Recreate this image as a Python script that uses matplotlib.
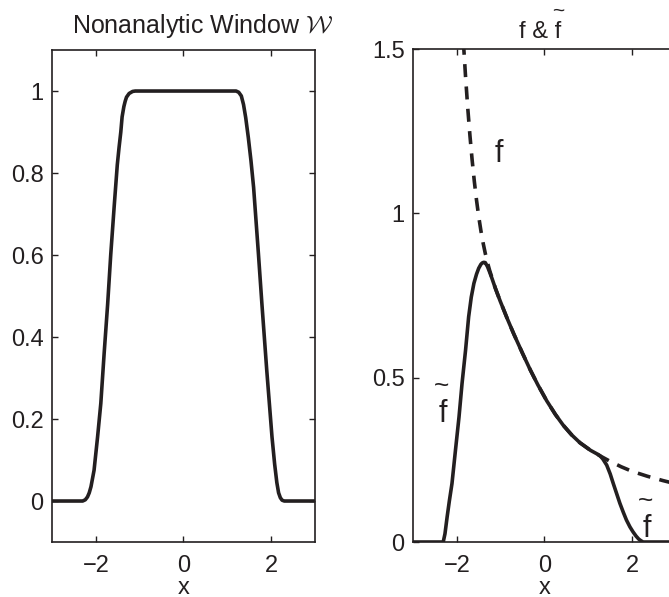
import matplotlib.pyplot as plt

plt.rcParams['font.family'] = ['Liberation Sans', 'DejaVu Sans']

# window W
w_x = [-3.0, -2.30, -2.24, -2.19, -2.15, -2.11, -2.04, -1.96, -1.886, -1.81, -1.73,
       -1.66, -1.58, -1.51, -1.47, -1.43, -1.40, -1.36, -1.33, -1.30, -1.24, -1.16,
       -1.10, 1.20, 1.26, 1.32, 1.37, 1.42, 1.48, 1.54, 1.60, 1.71, 1.79, 1.90, 2.02,
       2.08, 2.13, 2.17, 2.21, 2.25, 2.30, 3.0]
w_y = [0.0, 0.0, 0.003, 0.01, 0.02, 0.035, 0.075, 0.156, 0.238, 0.36, 0.48,
       0.60, 0.72, 0.82, 0.862, 0.90, 0.937, 0.962, 0.975, 0.985, 0.994, 0.999,
       1.0, 1.0, 0.997, 0.988, 0.967, 0.935, 0.886, 0.83, 0.765, 0.603, 0.48, 0.319,
       0.156, 0.09, 0.045, 0.02, 0.008, 0.002, 0.0, 0.0]

# f (dashed)
f_x = [-1.88, -1.85, -1.80, -1.75, -1.70, -1.65, -1.60, -1.55, -1.50, -1.45, -1.40,
       -1.35, -1.30, -1.25, -1.20, -1.12, -1.01, -0.85, -0.70, -0.50, -0.325, -0.15,
       0.05, 0.25, 0.43, 0.62, 0.81, 1.05, 1.20, 1.27, 1.49, 1.75, 2.0, 2.35, 2.70,
       3.0]
f_y = [1.59, 1.522, 1.415, 1.32, 1.236, 1.162, 1.097, 1.04, 0.99, 0.947, 0.91,
       0.878, 0.85, 0.826, 0.805, 0.772, 0.733, 0.68, 0.633, 0.574, 0.524, 0.478,
       0.43, 0.388, 0.355, 0.326, 0.302, 0.279, 0.268, 0.262, 0.246, 0.229, 0.215,
       0.20, 0.187, 0.177]

# windowed f~ (solid)
ft_x = [-3.0, -2.31, -2.27, -2.22, -2.17, -2.11, -2.03, -1.95, -1.88, -1.80, -1.73,
        -1.67, -1.61, -1.55, -1.50, -1.45, -1.42, -1.386, -1.35, -1.30, -1.25, -1.20,
        -1.12, -1.01, -0.85, -0.70, -0.50, -0.325, -0.15, 0.05, 0.25, 0.43, 0.62,
        0.81, 1.05, 1.20, 1.27, 1.33, 1.42, 1.50, 1.57, 1.65, 1.72, 1.80, 1.87, 1.95,
        2.02, 2.09, 2.15, 2.20, 2.25, 3.0]
ft_y = [0.0, 0.0, 0.025, 0.077, 0.125, 0.178, 0.28, 0.38, 0.483, 0.584, 0.685,
        0.745, 0.787, 0.815, 0.833, 0.845, 0.849, 0.851, 0.850, 0.838, 0.821, 0.803,
        0.772, 0.733, 0.68, 0.633, 0.574, 0.524, 0.478, 0.43, 0.388, 0.355, 0.326,
        0.302, 0.279, 0.268, 0.262, 0.253, 0.234, 0.207, 0.178, 0.146, 0.118, 0.09,
        0.067, 0.046, 0.031, 0.018, 0.009, 0.004, 0.0, 0.0]

ink = '#231f20'
fig = plt.figure(figsize=(6.69, 5.97), dpi=100)
ax1 = fig.add_axes([0.0777, 0.0921, 0.3931, 0.8241])
ax2 = fig.add_axes([0.6173, 0.0921, 0.3931, 0.8258])

for ax in (ax1, ax2):
    ax.tick_params(direction='in', top=True, right=True, length=4, width=1,
                   labelsize=17, colors=ink)
    ax.tick_params(axis='x', pad=9)
    ax.tick_params(axis='y', pad=6)
    for s in ax.spines.values():
        s.set_linewidth(1.2)
        s.set_color(ink)
    ax.set_xlabel('x', fontsize=17, labelpad=0, color=ink)
    ax.set_xlim(-3, 3)
    ax.set_xticks([-2, 0, 2])
    ax.set_xticklabels(['\u22122', '0', '2'])

ax1.plot(w_x, w_y, color=ink, lw=2.6)
ax1.set_ylim(-0.1, 1.1)
ax1.set_yticks([0, 0.2, 0.4, 0.6, 0.8, 1])
ax1.set_yticklabels(['0', '0.2', '0.4', '0.6', '0.8', '1'])
ax1.text(0.574, 1.035, r'Nonanalytic Window $\mathcal{W}$', transform=ax1.transAxes,
         ha='center', va='baseline', fontsize=18, color=ink, math_fontfamily='cm')

ax2.plot(f_x, f_y, color=ink, lw=2.6, linestyle=(0, (3.6, 2.6)))
ax2.plot(ft_x, ft_y, color=ink, lw=2.6)
ax2.set_ylim(0, 1.5)
ax2.set_yticks([0, 0.5, 1, 1.5])
ax2.set_yticklabels(['0', '0.5', '1', '1.5'])

# title "f & f~" with the tilde drawn over the second f
ax2.text(0.483, 1.022, 'f & f', transform=ax2.transAxes,
         ha='center', va='baseline', fontsize=17, color=ink)
ax2.text(0.553, 1.076, '~', transform=ax2.transAxes,
         ha='center', va='center', fontsize=15, color=ink)

ax2.text(-1.05, 1.156, 'f', ha='center', va='baseline', fontsize=22, color=ink)
ax2.text(-2.32, 0.365, 'f', ha='center', va='baseline', fontsize=22, color=ink)
ax2.text(-2.34, 0.475, '~', ha='center', va='center', fontsize=19, color=ink)
ax2.text(2.34, 0.015, 'f', ha='center', va='baseline', fontsize=22, color=ink)
ax2.text(2.31, 0.125, '~', ha='center', va='center', fontsize=19, color=ink)

fig.savefig('out.png', dpi=100)
